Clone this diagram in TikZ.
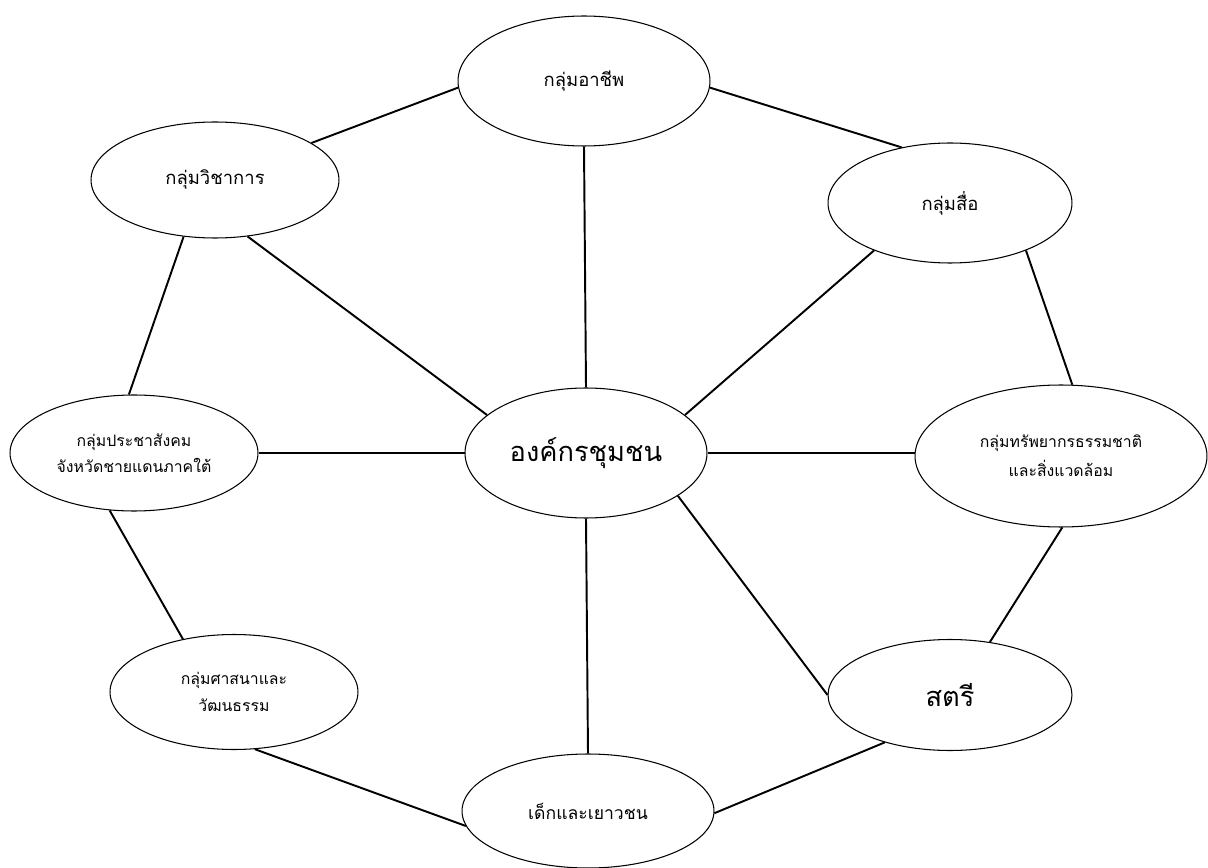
\documentclass[tikz,border=0pt]{standalone}
\usepackage{fontspec}
\newfontfamily\thaifont[Script=Thai]{Loma}
\usetikzlibrary{shapes.geometric}

\begin{document}
\begin{tikzpicture}[x=0.02cm, y=-0.02cm,
                    every node/.append style={font=\thaifont},
                    group/.style={ellipse, draw, line width=0.6pt, fill=white, inner sep=0pt, align=center},
                    smalltext/.style={font=\thaifont\fontsize{9}{11}\selectfont},
                    midtext/.style={font=\thaifont\fontsize{10.5}{12}\selectfont},
                    bigtext/.style={font=\thaifont\fontsize{15.5}{18}\selectfont},
                    link/.style={line width=1.1pt}]
    \useasboundingbox (0,0) rectangle (1208,868);

    \node [group, midtext, minimum width=5.04cm, minimum height=2.6cm] (grp_career) at (584,81) {กลุ่มอาชีพ};
    \node [group, midtext, minimum width=4.96cm, minimum height=2.32cm] (grp_academic) at (215,180) {กลุ่มวิชาการ};
    \node [group, midtext, minimum width=4.88cm, minimum height=2.4cm] (grp_media) at (950,203) {กลุ่มสื่อ};
    \node [group, smalltext, minimum width=4.96cm, minimum height=2.32cm] (grp_civil) at (134,453) {กลุ่มประชาสังคม\\[4pt]จังหวัดชายแดนภาคใต้};
    \node [group, bigtext, minimum width=4.84cm, minimum height=2.6cm] (community) at (586,453) {องค์กรชุมชน};
    \node [group, smalltext, minimum width=5.84cm, minimum height=2.84cm] (grp_nature) at (1061,456) {กลุ่มทรัพยากรธรรมชาติ\\[4pt]และสิ่งแวดล้อม};
    \node [group, smalltext, minimum width=4.96cm, minimum height=2.3cm] (grp_religion) at (234,692) {กลุ่มศาสนาและ\\[4pt]วัฒนธรรม};
    \node [group, bigtext, minimum width=4.88cm, minimum height=2.22cm] (women) at (950,695) {สตรี};
    \node [group, font=\thaifont\fontsize{10}{12}\selectfont, minimum width=5.04cm, minimum height=2.28cm] (youth) at (588,811) {เด็กและเยาวชน};

    % Draw the ring
    \draw [link] (grp_career.183)   -- (grp_academic.21);
    \draw [link] (grp_career.-3)    -- (grp_media.131);
    \draw [link] (grp_academic.241) -- (grp_civil.95);
    \draw [link] (grp_media.-32)    -- (grp_nature.81);
    \draw [link] (grp_civil.247)    -- (grp_religion.134);
    \draw [link] (grp_nature.-89)   -- (women.53.5);
    \draw [link] (grp_religion.-70) -- (youth.187);
    \draw [link] (youth.-1)         -- (women.216);
    % Draw the spokes
    \draw [link] (grp_career.south)  -- (community.north);
    \draw [link] (grp_academic.-60)  -- (community.159.5);
    \draw [link] (grp_media.212)     -- (community.21);
    \draw [link] (grp_civil.east)    -- (community.west);
    \draw [link] (community.east)    -- (community.east -| grp_nature.west);
    \draw [link] (community.-25.8)   -- (women.west);
    \draw [link] (community.south)   -- (youth.north);
\end{tikzpicture}
\end{document}
